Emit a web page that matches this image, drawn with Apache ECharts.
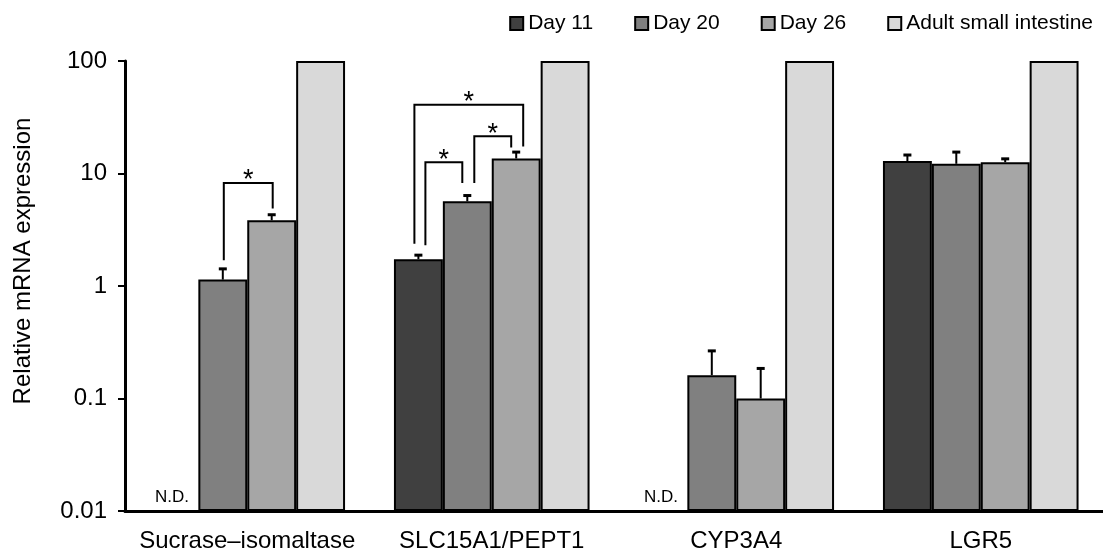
<!DOCTYPE html>
<html>
<head>
<meta charset="utf-8">
<title>Relative mRNA expression</title>
<script src="https://cdn.jsdelivr.net/npm/echarts@6/dist/echarts.min.js"></script>
</head>
<body style="margin:0">
<div id="main" style="width:1103px;height:554px;background:#fff"></div>
<script type="text/javascript">
var genes = ['Sucrase–isomaltase', 'SLC15A1/PEPT1', 'CYP3A4', 'LGR5'];
var groups = ['Day 11', 'Day 20', 'Day 26', 'Adult small intestine'];
var day11 = [null, 1.73, null, 12.9];
var day20 = [1.14, 5.66, 0.161, 12.2];
var day26 = [3.84, 13.6, 0.100, 12.6];
var adult = [100, 100, 100, 100];
var day11Err = [null, 0.15, null, 1.7];
var day20Err = [0.28, 0.71, 0.104, 3.3];
var day26Err = [0.46, 1.9, 0.085, 0.9];
var yTicks = [0.01, 0.1, 1, 10, 100];
// gene, left group, right group, bracket top, left foot, right foot
var brackets = [
    [0, 1, 2, 8.24, 1.69, 4.88],
    [1, 0, 2, 40.9, 2.38, 17.4],
    [1, 0, 1, 12.6, 2.30, 8.24],
    [1, 1, 2, 21.4, 8.24, 17.0]
];
// not detected: gene, group
var notDetected = [[0, 0], [2, 0]];

var legShift = [[1, 1], [-4, 7], [7, -5], [7, -5]];
var colors = ['#404040', '#808080', '#a6a6a6', '#d9d9d9'];
var font = "'Liberation Sans', Arial, sans-serif";
var catGap = 0.2;

var myChart = echarts.init(document.getElementById('main'));

function barX(api, cat, idx) {
    var band = api.size([1, 0])[0];
    var c = api.coord([cat, 1])[0];
    var w = band * (1 - catGap) / 4;
    return c - band * (1 - catGap) / 2 + w * (idx + 0.5);
}

var values = [day11, day20, day26, adult];
var errs = [day11Err, day20Err, day26Err];
var errData = [];
errs.forEach(function (arr, s) {
    arr.forEach(function (e, i) {
        if (e != null) errData.push([i, values[s][i], e, s]);
    });
});
var bracketData = brackets.map(function (b, k) {
    return [b[0], b[3], b[1], b[2], b[4], b[5], legShift[k][0], legShift[k][1]];
});
var ndData = notDetected.map(function (d) { return [d[0], 0.01, d[1]]; });

var series = groups.map(function (name, s) {
    return {
        name: name,
        type: 'bar',
        barGap: '0%',
        barCategoryGap: '20%',
        itemStyle: { color: colors[s], borderColor: '#000', borderWidth: 2 },
        data: values[s]
    };
});

// error bars (upper only)
series.push({
    type: 'custom',
    z: 5,
    encode: { x: 0, y: 1 },
    data: errData,
    renderItem: function (params, api) {
        var cat = api.value(0), mean = api.value(1), err = api.value(2), s = api.value(3);
        var x = barX(api, cat, s);
        var y0 = api.coord([cat, mean])[1];
        var y1 = api.coord([cat, mean + err])[1];
        return {
            type: 'group', children: [
                { type: 'line', shape: { x1: x, y1: y0, x2: x, y2: y1 }, style: { stroke: '#000', lineWidth: 2 } },
                { type: 'line', shape: { x1: x - 4, y1: y1, x2: x + 4, y2: y1 }, style: { stroke: '#000', lineWidth: 3 } }
            ]
        };
    }
});

// significance brackets
series.push({
    type: 'custom',
    z: 5,
    encode: { x: 0, y: 1 },
    data: bracketData,
    renderItem: function (params, api) {
        var cat = api.value(0);
        var xa = barX(api, cat, api.value(2)) + api.value(6);
        var xb = barX(api, cat, api.value(3)) + api.value(7);
        var yt = api.coord([cat, api.value(1)])[1];
        var ya = api.coord([cat, api.value(4)])[1];
        var yb = api.coord([cat, api.value(5)])[1];
        return {
            type: 'group', children: [
                { type: 'polyline', shape: { points: [[xa, ya], [xa, yt], [xb, yt], [xb, yb]] },
                  style: { stroke: '#000', lineWidth: 2, fill: null } },
                { type: 'text', x: (xa + xb) / 2, y: yt - 2,
                  style: { text: '*', fontSize: 27, fontFamily: font, fill: '#000', align: 'center', verticalAlign: 'middle' } }
            ]
        };
    }
});

series.push({
    type: 'custom',
    z: 5,
    encode: { x: 0, y: 1 },
    data: ndData,
    renderItem: function (params, api) {
        var cat = api.value(0);
        var x = barX(api, cat, api.value(2)) - 2;
        var y = api.coord([cat, api.value(1)])[1];
        return {
            type: 'text', x: x, y: y - 14,
            style: { text: 'N.D.', fontSize: 17, fontFamily: font, fill: '#000', align: 'center', verticalAlign: 'middle' }
        };
    }
});

var option = {
    animation: false,
    backgroundColor: '#fff',
    textStyle: { fontFamily: font },
    legend: {
        data: groups,
        right: 5,
        top: 8,
        icon: 'rect',
        itemWidth: 13,
        itemHeight: 13,
        itemGap: 41,
        textStyle: { fontSize: 21, color: '#000', fontFamily: font }
    },
    grid: { left: 125, right: 0, top: 61, bottom: 43 },
    xAxis: {
        type: 'category',
        data: genes,
        axisLine: { lineStyle: { color: '#000', width: 3 } },
        axisTick: { show: false },
        axisLabel: { fontSize: 24, color: '#000', margin: 18, fontFamily: font, interval: 0 }
    },
    yAxis: {
        type: 'log',
        logBase: 10,
        min: yTicks[0],
        max: yTicks[yTicks.length - 1],
        startValue: yTicks[0],
        name: 'Relative mRNA expression',
        nameLocation: 'middle',
        nameGap: 90,
        nameTextStyle: { fontSize: 24, color: '#000', fontFamily: font, padding: [0, 0, 0, 50] },
        axisLine: { show: true, lineStyle: { color: '#000', width: 3 } },
        axisTick: { show: true, length: 7, lineStyle: { color: '#000', width: 2 } },
        splitLine: { show: false },
        axisLabel: {
            fontSize: 24, color: '#000', margin: 18, fontFamily: font,
            formatter: function (v) { return String(parseFloat(v.toPrecision(3))); }
        }
    },
    series: series
};

myChart.setOption(option);
</script>
</body>
</html>
